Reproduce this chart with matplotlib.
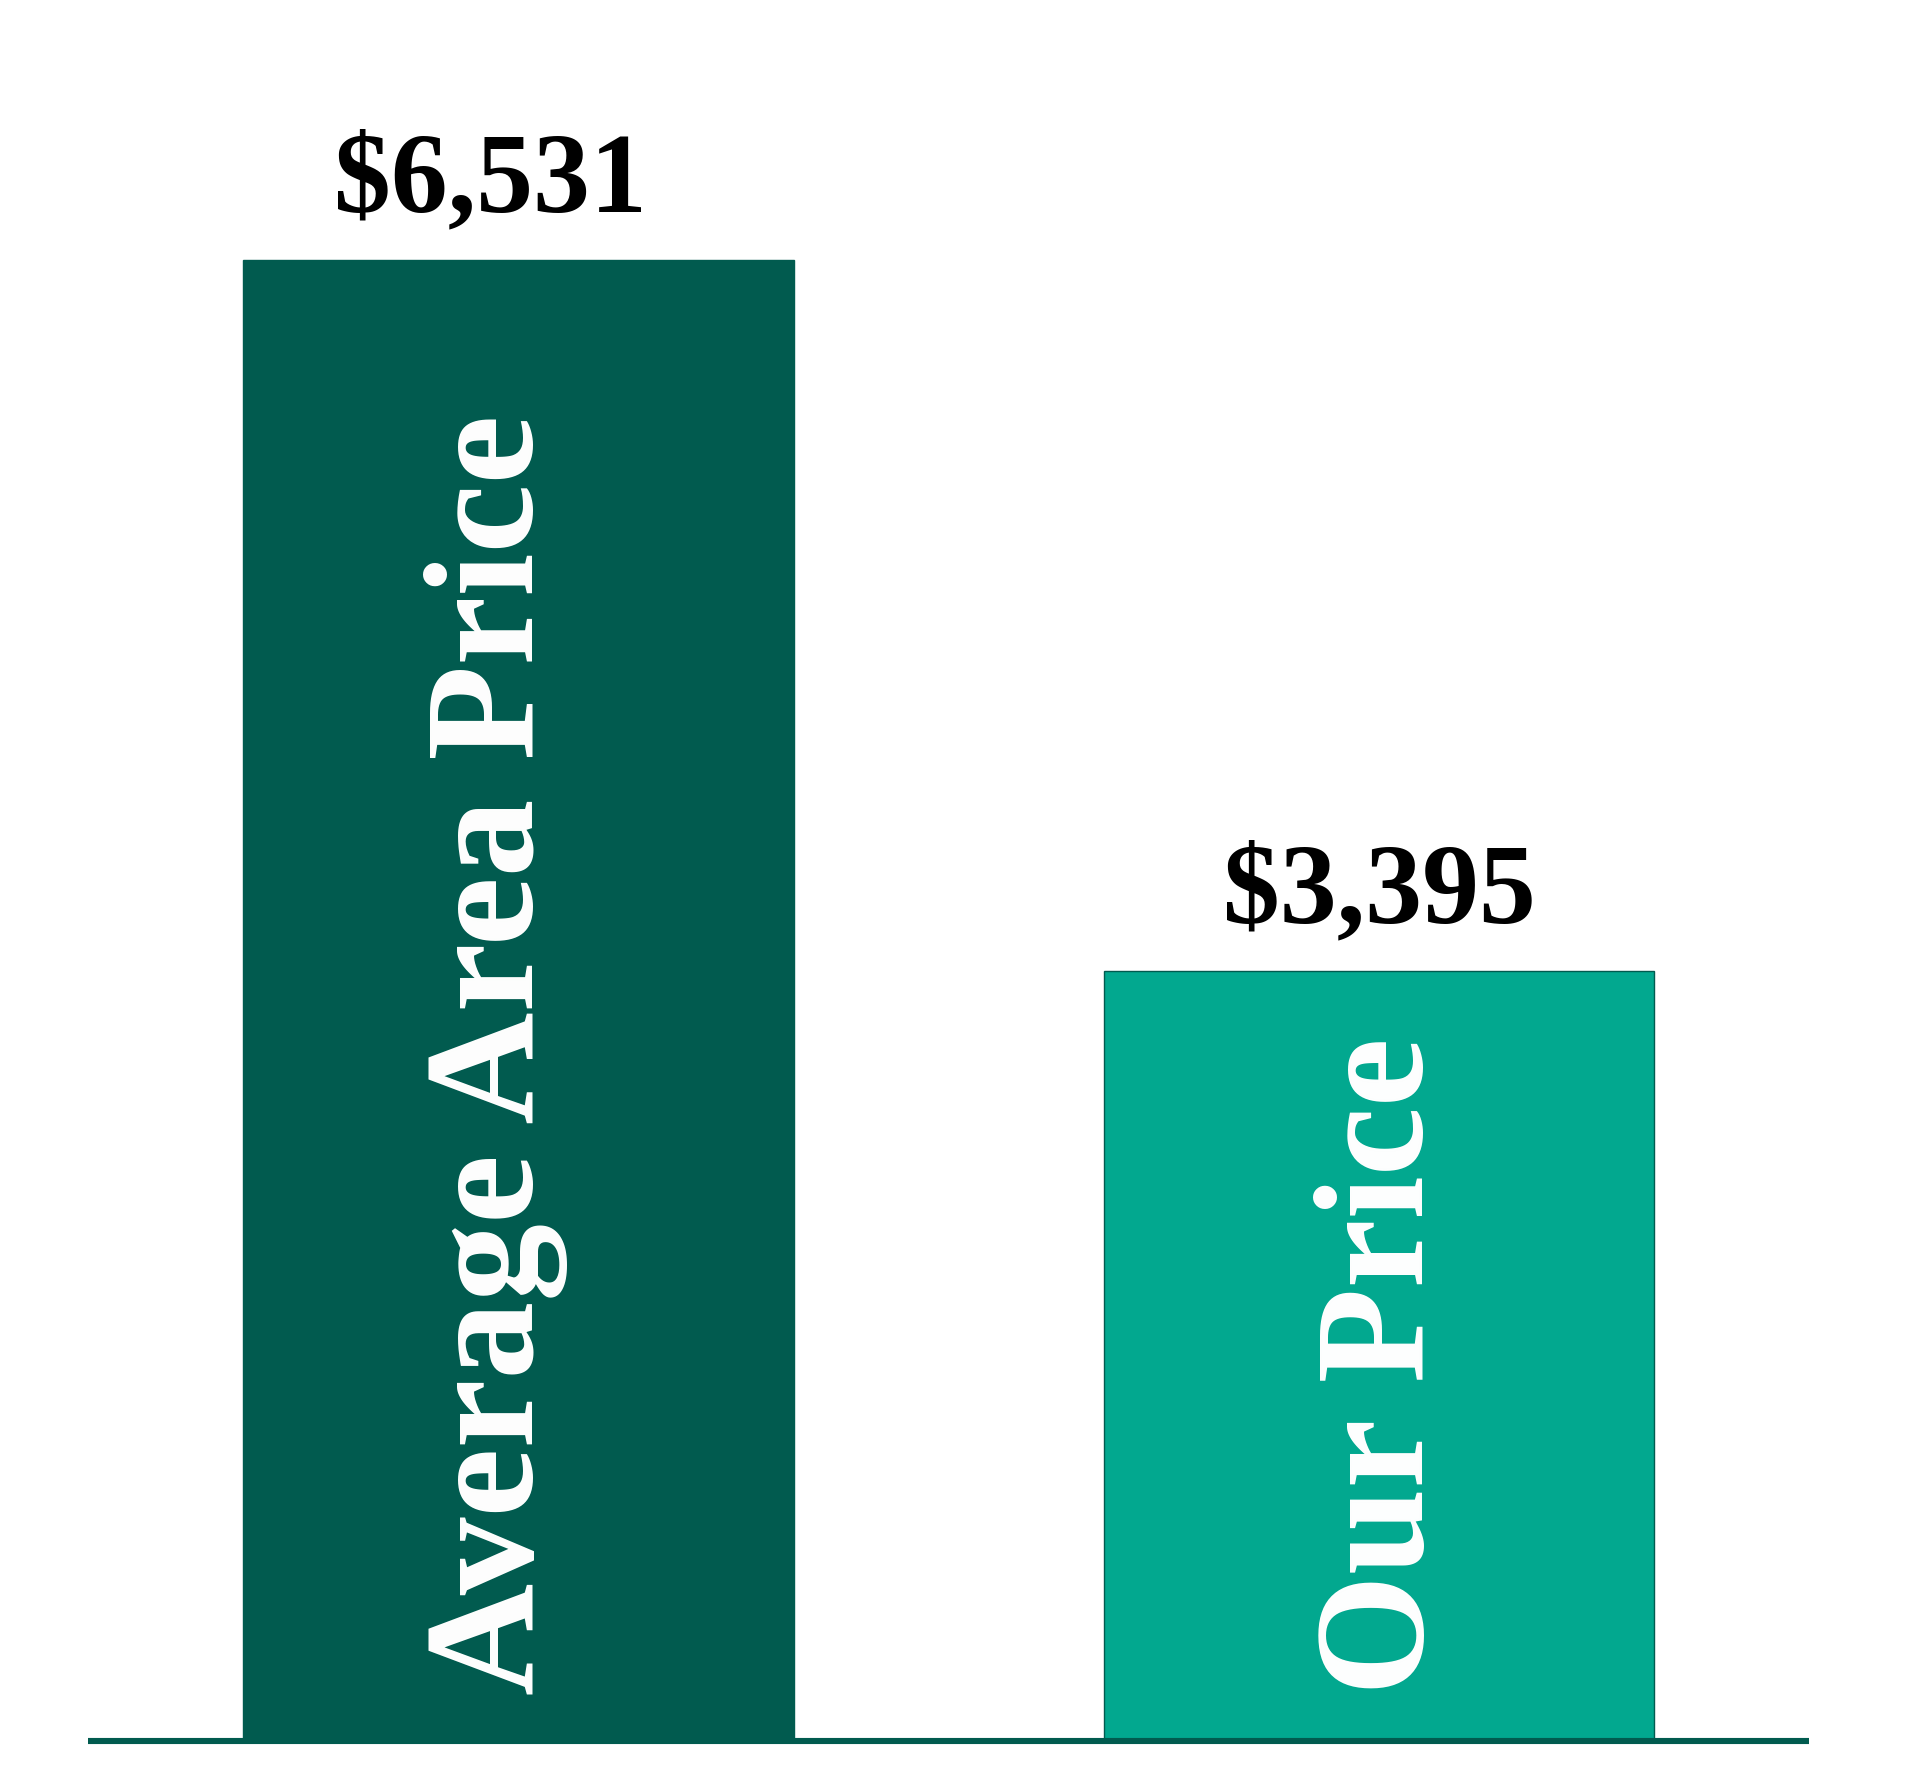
import os
import numpy as np
import matplotlib
matplotlib.use("Agg")
import matplotlib.pyplot as plt
from matplotlib import font_manager as fm

# data
categories = ["Average Area Price", "Our Price"]
prices = [6531, 3395]
bar_colors = ["#015B4F", "#02A88F"]
edge_colors = ["#015B4F", "#015B4F"]
value_labels = ["$6,531", "$3,395"]
# small horizontal nudges (in bar units / points)
name_shift = [0.017, 0.051]
label_dx = [-20, 0]

# look for a bold Times-like serif file, fall back to DejaVu Serif
wanted = ['liberationserif-bold.', 'tinos-bold.', 'timesnewromanbold', 'timesbd.',
          'notoserif-bold.', 'playfairdisplay-bold']
files = fm.findSystemFonts() + [f.fname for f in fm.fontManager.ttflist]
serif_file = None
for w in wanted:
    for fn in files:
        if w in os.path.basename(fn).lower().replace(' ', ''):
            serif_file = fn
            break
    if serif_file:
        break
if serif_file:
    bold_serif = fm.FontProperties(fname=serif_file)
else:
    bold_serif = fm.FontProperties(family='DejaVu Serif', weight='bold')

fig = plt.figure(figsize=(19.2, 17.92), dpi=100)
ax = fig.add_axes([0, 0, 1, 1])

x = np.arange(len(categories))
ax.bar(x, prices, width=0.64, color=bar_colors, edgecolor=edge_colors,
       linewidth=1, zorder=2)

# baseline
ax.plot([-0.5, 1.5], [0, 0], color="#015B4F", linewidth=4.4,
        solid_capstyle='butt', zorder=3)

for i in range(len(categories)):
    # price above bar
    ax.annotate(value_labels[i], xy=(x[i], prices[i]), xytext=(label_dx[i], 35),
                textcoords='offset points', ha='center', va='baseline',
                fontproperties=bold_serif, fontsize=82, color='black')
    # rotated category name inside bar
    ax.annotate(categories[i], xy=(x[i] + name_shift[i], 0), xytext=(0, 33),
                textcoords='offset points', ha='left', va='baseline',
                rotation=90, rotation_mode='anchor',
                fontproperties=bold_serif, fontsize=112, color='white',
                zorder=4)

ax.set_xlim(-0.6026, 1.6287)
ax.set_ylim(-224.9, 7677)
ax.axis('off')

fig.savefig("out.png", dpi=100, facecolor='white')
